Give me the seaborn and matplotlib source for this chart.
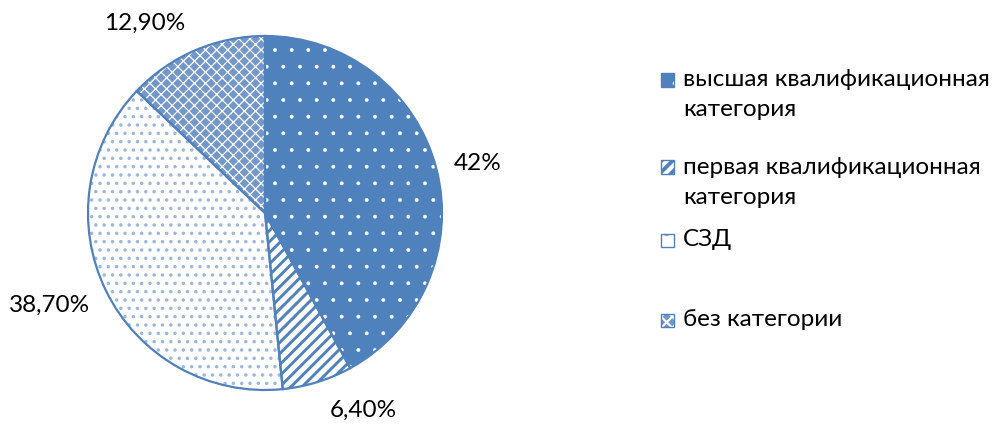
import matplotlib
matplotlib.use("Agg")
import matplotlib.pyplot as plt
import seaborn as sns
from matplotlib.patches import Rectangle

categories = ["высшая квалификационная\nкатегория",
              "первая квалификационная\nкатегория",
              "СЗД",
              "без категории"]
values = [42.0, 6.4, 38.7, 12.9]
pct_labels = ["42%", "6,40%", "38,70%", "12,90%"]

sns.set_theme(style="white")
plt.rcParams['font.family'] = ['Lato', 'DejaVu Sans']
plt.rcParams['hatch.linewidth'] = 1.0

BLUE = "#4F81BD"
W, H = 995, 425
fig = plt.figure(figsize=(W / 100, H / 100), dpi=100)
fig.patch.set_facecolor("white")

cx, cy, r = 265, 213, 177
ax = fig.add_axes([(cx - r) / W, (H - cy - r) / H, 2 * r / W, 2 * r / H])

faces = [BLUE, "white", "white", "#7397C8"]
hcols = ["white", BLUE, "#9DB7DD", "white"]
hatches = [".", "///", "..", "xxx"]
hlws = [0.3, 2.1, 1.3, 0.9]


def set_hlw(p, lw):
    if hasattr(p, "set_hatch_linewidth"):
        p.set_hatch_linewidth(lw)
    else:
        p._hatch_linewidth = lw


wedges, _ = ax.pie(values, startangle=90, counterclock=False, radius=1.0,
                   wedgeprops=dict(linewidth=0))
for w, fc, hc, h, lw in zip(wedges, faces, hcols, hatches, hlws):
    w.set_facecolor(fc)
    w.set_edgecolor(hc)
    w.set_hatch(h)
    set_hlw(w, lw)
    w.set_clip_on(False)

outline, _ = ax.pie(values, startangle=90, counterclock=False, radius=1.0,
                    wedgeprops=dict(fill=False, edgecolor=BLUE, linewidth=1.6))
for w in outline:
    w.set_clip_on(False)

ax.set_xlim(-1, 1)
ax.set_ylim(-1, 1)
ax.set_aspect("equal")
ax.axis("off")

FS = 17.5
# percent labels (positions in pie radius units)
label_pos = [(1.203, 0.282), (0.554, -1.113), (-1.215, -0.520), (-0.678, 1.073)]
for (lx, ly), t in zip(label_pos, pct_labels):
    ax.text(lx, ly, t, ha="center", va="center", fontsize=FS, color="black")

# legend
legend_y = [80, 167, 240, 320]   # first-line centre, px from top
leg_hatch = [".", "///", ".", "xxx"]
sq = 13
for i, (lab, y) in enumerate(zip(categories, legend_y)):
    x0 = 661
    rect = Rectangle((x0 / W, (H - y - sq / 2) / H), sq / W, sq / H,
                     transform=fig.transFigure, facecolor=faces[i],
                     edgecolor=hcols[i], hatch=leg_hatch[i], linewidth=0)
    set_hlw(rect, hlws[i] + 0.6)
    fig.patches.append(rect)
    border = Rectangle((x0 / W, (H - y - sq / 2) / H), sq / W, sq / H,
                       transform=fig.transFigure, fill=False,
                       edgecolor=BLUE, linewidth=1.0)
    fig.patches.append(border)
    for j, ln in enumerate(lab.split("\n")):
        fig.text(683 / W, (H - y - j * 30) / H, ln, ha="left", va="center",
                 fontsize=FS, color="black")

fig.savefig("out.png", dpi=100, facecolor="white")
